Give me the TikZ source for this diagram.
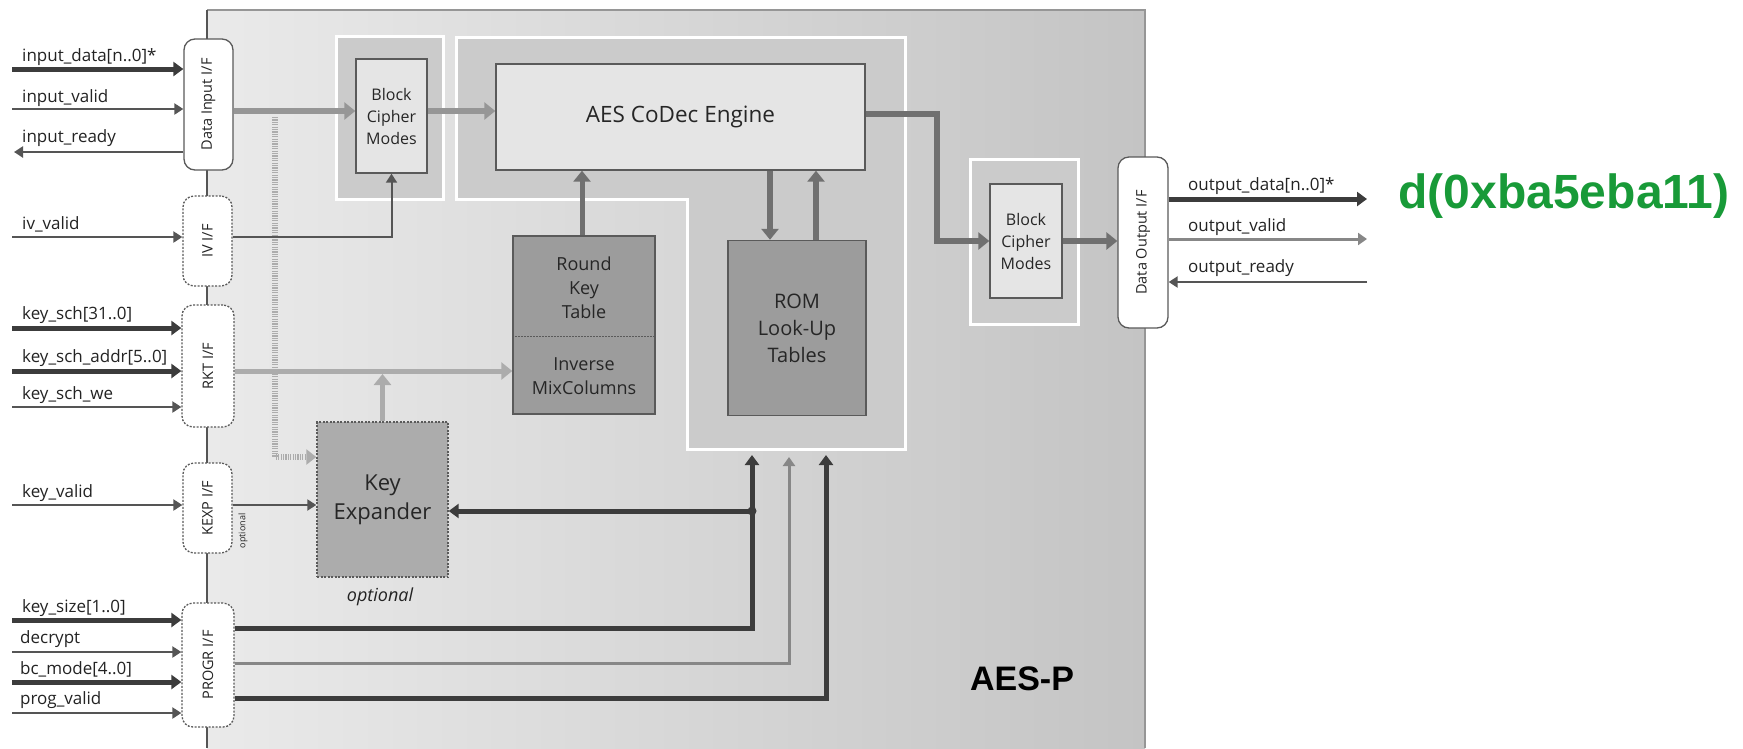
\documentclass[tikz,border=0pt]{standalone}
\usepackage{fontspec}
\setmainfont{Open Sans}
\newfontfamily\headfont{Liberation Sans}
\usetikzlibrary{arrows.meta}

\definecolor{mainL}{RGB}{234,234,234}
\definecolor{mainR}{RGB}{196,196,196}
\definecolor{edgec}{RGB}{150,150,150}
\definecolor{regionc}{RGB}{203,203,203}
\definecolor{lightbox}{RGB}{229,229,229}
\definecolor{darkbox}{RGB}{156,156,156}
\definecolor{kexpbox}{RGB}{172,172,172}
\definecolor{boxedge}{RGB}{90,90,90}
\definecolor{labelc}{RGB}{35,35,35}
\definecolor{busc}{RGB}{60,60,60}
\definecolor{sigc}{RGB}{85,85,85}
\definecolor{flowA}{RGB}{150,150,150}
\definecolor{flowB}{RGB}{112,112,112}
\definecolor{flowC}{RGB}{172,172,172}
\definecolor{midc}{RGB}{135,135,135}
\definecolor{signgreen}{RGB}{24,154,56}

\newcommand\sigfont{\fontsize{17}{20}\selectfont}
\newcommand\iffont{\fontsize{14.5}{17}\selectfont}

\tikzset{
  iface/.style={draw=boxedge, line width=1.3pt, rounded corners=11pt, fill=white,
    inner sep=0pt, font=\iffont, text=labelc},
  ifacedot/.style={iface, dash pattern=on 2pt off 1.5pt},
  region/.style={fill=regionc, draw=white, line width=3pt},
  lbl/.style={anchor=base west, inner sep=0pt, font=\sigfont, text=labelc},
  unit/.style={draw=boxedge, line width=1.4pt, inner sep=0pt, align=center, text=black!85},
  bus/.style={draw=busc, line width=5pt, -{Triangle[length=10pt,width=14pt]}},
  sig/.style={draw=sigc, line width=2.2pt, -{Triangle[length=9pt,width=11pt]}},
  ctl/.style={draw=midc, line width=3pt, -{Triangle[length=9pt,width=12pt]}},
  flow/.style={line width=6pt, -{Triangle[length=11pt,width=17pt]}},
  dotflow/.style={draw=flowC, line width=6pt, dash pattern=on 1.2pt off 1.2pt,
    -{Triangle[length=10pt,width=15pt]}},
}

\begin{document}
\begin{tikzpicture}[x=1pt,y=-1pt]
\useasboundingbox (0,0) rectangle (1743,748);
\fill[white] (0,0) rectangle (1743,748);

% core outline
\shade[left color=mainL, right color=mainR] (207,10) rectangle (1145,748);
\draw[draw=edgec, line width=2.5pt] (207,10) -- (1145,10) -- (1145,748);
\draw[draw=sigc, line width=1.6pt] (207,10) -- (207,748);

% grouped regions
\filldraw[region] (336,36) rectangle (443,199);
\filldraw[region] (456,37) -- (905,37) -- (905,449) -- (687,449) -- (687,199) -- (456,199) -- cycle;
\filldraw[region] (970,159) rectangle (1078,324);

% interfaces
\node[iface, minimum width=49pt, minimum height=131pt] (dinif) at (208.5,104.5) {\rotatebox{90}{Data Input I/F}};
\node[ifacedot, minimum width=49pt, minimum height=90pt] (ivif) at (207.5,241) {\rotatebox{90}{IV I/F}};
\node[ifacedot, minimum width=52pt, minimum height=122pt] (rktif) at (208,366) {\rotatebox{90}{RKT I/F}};
\node[ifacedot, minimum width=49pt, minimum height=90pt] (kexpif) at (207.5,508) {\rotatebox{90}{KEXP I/F}};
\node[ifacedot, minimum width=52pt, minimum height=124pt] (progrif) at (208,665) {\rotatebox{90}{PROGR I/F}};
\node[iface, minimum width=50pt, minimum height=171pt] (doutif) at (1143,242.5) {\rotatebox{90}{Data Output I/F}};

% functional units
\node[unit, fill=lightbox, minimum width=71pt, minimum height=114pt, font=\fontsize{16}{22}\selectfont] (bcmA) at (391.5,116) {Block\\Cipher\\Modes};
\node[unit, fill=lightbox, minimum width=369pt, minimum height=106pt, font=\fontsize{22.5}{26}\selectfont] (aes) at (680.5,117) {AES CoDec Engine};
\node[unit, fill=darkbox, minimum width=142pt, minimum height=178pt] (rkt) at (584,325) {};
\draw[boxedge, line width=1.2pt, dash pattern=on 1.5pt off 1.5pt] ([yshift=-101pt]rkt.north west) -- ([yshift=-101pt]rkt.north east);
\node[align=center, inner sep=0pt, font=\fontsize{18}{24}\selectfont, text=black!85] (rktup) at (584,288) {Round\\Key\\Table};
\node[align=center, inner sep=0pt, font=\fontsize{18}{24}\selectfont, text=black!85] (rktlo) at (584,376) {Inverse\\MixColumns};
\node[unit, fill=darkbox, minimum width=138pt, minimum height=175pt, font=\fontsize{20}{27}\selectfont] (rom) at (797,328) {ROM\\Look-Up\\Tables};
\node[unit, fill=kexpbox, dash pattern=on 2pt off 1.5pt, minimum width=131pt, minimum height=155pt, font=\fontsize{22}{29}\selectfont] (kexp) at (382.5,499.5) {Key\\Expander};
\node[font=\itshape\fontsize{18}{20}\selectfont, text=labelc, inner sep=0pt] (opt) at (380,597) {optional};
\node[rotate=90, font=\fontsize{9}{10}\selectfont, text=labelc, inner sep=0pt] (optif) at (243,531) {optional};
\node[unit, fill=lightbox, minimum width=72pt, minimum height=114pt, font=\fontsize{16}{22}\selectfont] (bcmB) at (1026,241) {Block\\Cipher\\Modes};

% port rows (free ends of the pins)
\coordinate (pA) at (12,69);
\coordinate (pB) at (12,109);
\coordinate (pC) at (14,152);
\coordinate (pD) at (12,237);
\coordinate (pE) at (12,328);
\coordinate (pF) at (12,371);
\coordinate (pG) at (12,407);
\coordinate (pH) at (12,505);
\coordinate (pI) at (12,620);
\coordinate (pJ) at (12,652);
\coordinate (pK) at (12,682);
\coordinate (pL) at (12,713);
\coordinate (qA) at (1367,199);
\coordinate (qB) at (1367,239);
\coordinate (qC) at (1367,282);

% input pins
\draw[bus] (pA) -- (pA -| dinif.west);
\draw[sig] (pB) -- (pB -| dinif.west);
\draw[sig] (pC -| dinif.west) -- (pC);
\draw[sig] (pD) -- (pD -| ivif.west);
\draw[bus] (pE) -- (pE -| rktif.west);
\draw[bus] (pF) -- (pF -| rktif.west);
\draw[sig] (pG) -- (pG -| rktif.west);
\draw[sig] (pH) -- (pH -| kexpif.west);
\draw[bus] (pI) -- (pI -| progrif.west);
\draw[sig] (pJ) -- (pJ -| progrif.west);
\draw[bus] (pK) -- (pK -| progrif.west);
\draw[sig] (pL) -- (pL -| progrif.west);

% output pins
\draw[bus] (qA -| doutif.east) -- (qA);
\draw[ctl] (qB -| doutif.east) -- (qB);
\draw[sig] (qC) -- (qC -| doutif.east);

% pin names
\node[lbl] (nA) at (22,61) {input\_data[n..0]*};
\node[lbl] (nB) at (22,102) {input\_valid};
\node[lbl] (nC) at (22,142) {input\_ready};
\node[lbl] (nD) at (22,229) {iv\_valid};
\node[lbl] (nE) at (22,319) {key\_sch[31..0]};
\node[lbl] (nF) at (22,362) {key\_sch\_addr[5..0]};
\node[lbl] (nG) at (22,399) {key\_sch\_we};
\node[lbl] (nH) at (22,497) {key\_valid};
\node[lbl] (nI) at (22,612) {key\_size[1..0]};
\node[lbl] (nJ) at (20,643) {decrypt};
\node[lbl] (nK) at (20,674) {bc\_mode[4..0]};
\node[lbl] (nL) at (20,704) {prog\_valid};
\node[lbl] (mA) at (1188,190) {output\_data[n..0]*};
\node[lbl] (mB) at (1188,231) {output\_valid};
\node[lbl] (mC) at (1188,272) {output\_ready};

% data path
\coordinate (tap) at (275,111);
\coordinate (kin) at ([yshift=42.5pt]kexp.west);
\draw[dotflow] ([yshift=-6pt]tap) -- (tap |- kin) -- (kin);
\draw[flow, draw=flowA] (dinif.east |- tap) -- (bcmA.west |- tap);
\draw[flow, draw=flowA] (bcmA.east |- tap) -- (aes.west |- tap);
\draw[sig, line width=2pt] (pD -| ivif.east) -| (bcmA.south);
\draw[flow, draw=flowC, line width=5pt] (pF -| rktif.east) -- (pF -| rkt.west);
\draw[flow, draw=flowC, line width=5pt, shorten >=3pt] (kexp.north) -- (kexp.north |- pF);
\draw[flow, draw=flowB, line width=5pt] ([xshift=-2pt]rkt.north) -- ([xshift=-2pt]rkt.north |- aes.south);
\draw[flow, draw=flowB] ([xshift=-27pt]rom.north |- aes.south) -- ([xshift=-27pt]rom.north);
\draw[flow, draw=flowB] ([xshift=19pt]rom.north) -- ([xshift=19pt]rom.north |- aes.south);
\coordinate (bendA) at (937,114);
\draw[flow, draw=flowB] (aes.east |- bendA) -- (bendA) |- (bcmB.west);
\draw[flow, draw=flowB] (bcmB.east) -- (bcmB.east -| doutif.west);
\draw[sig, line width=2pt] (pH -| kexpif.east) -- (pH -| kexp.west);

% programming buses
\coordinate (rA) at (752,628);
\coordinate (rB) at (789,663);
\coordinate (rC) at (826,698);
\coordinate (cA) at (752,455);
\coordinate (cB) at (789,457);
\coordinate (cC) at (826,455);
\coordinate (jn) at (752,511);
\draw[bus] (progrif.east |- rA) -- (rA) -- (cA);
\draw[ctl] (progrif.east |- rB) -- (rB) -- (cB);
\draw[bus] (progrif.east |- rC) -- (rC) -- (cC);
\draw[bus] (jn) -- (jn -| kexp.east);
\fill[busc] (jn) circle (4.5);

% titles
\node[anchor=base, inner sep=0pt, font=\headfont\bfseries\fontsize{34}{34}\selectfont] (core) at (1022,690) {AES-P};
\node[anchor=base, inner sep=0pt, text=signgreen, font=\headfont\bfseries\fontsize{48}{48}\selectfont] (sig) at (1564,208) {d(0xba5eba11)};
\end{tikzpicture}
\end{document}
